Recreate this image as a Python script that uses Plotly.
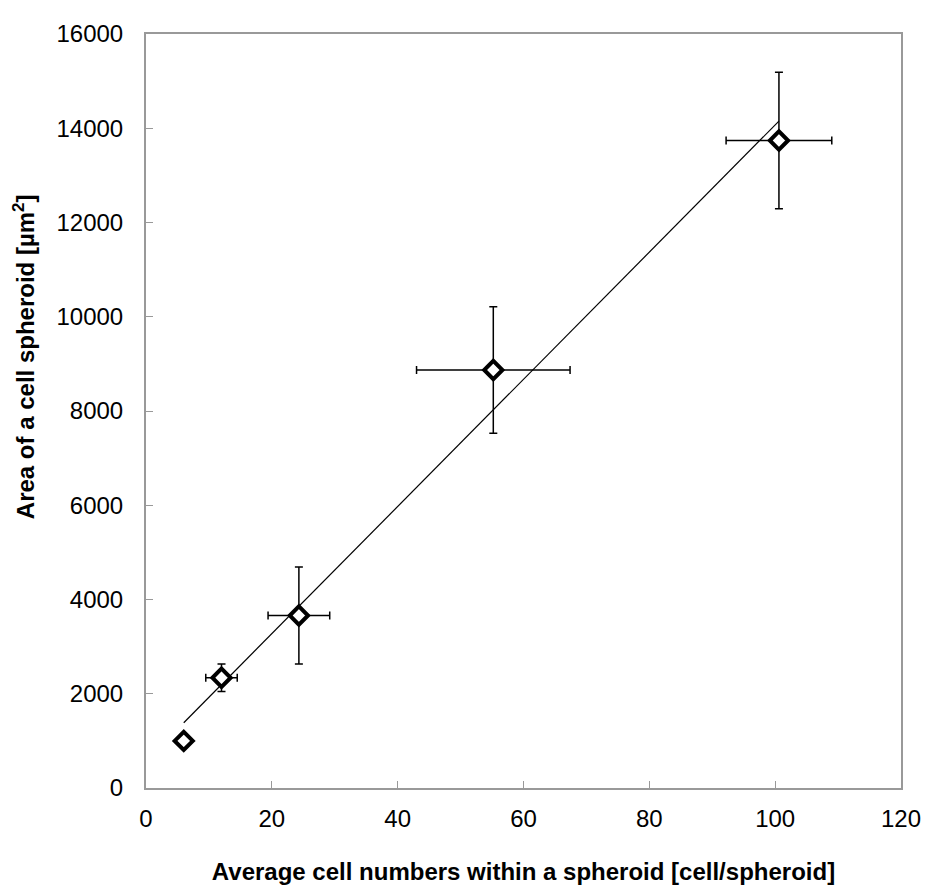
import numpy as np
import plotly.graph_objects as go

cell_numbers = [6.0, 12.0, 24.3, 55.2, 100.6]
cell_numbers_err = [0.0, 2.5, 4.9, 12.2, 8.4]
spheroid_area = [1000, 2340, 3660, 8870, 13740]
spheroid_area_err = [0, 290, 1030, 1340, 1450]

slope, intercept = np.polyfit(cell_numbers, spheroid_area, 1)
fit_x = [min(cell_numbers), max(cell_numbers)]
fit_y = [slope * v + intercept for v in fit_x]

FONT = "Liberation Sans, Arial, sans-serif"

fig = go.Figure()
fig.add_trace(go.Scatter(
    x=fit_x, y=fit_y, mode="lines",
    line=dict(color="black", width=1.2), showlegend=False, hoverinfo="skip"))
fig.add_trace(go.Scatter(
    x=cell_numbers, y=spheroid_area, mode="markers",
    marker=dict(symbol="diamond", size=14, color="white",
                line=dict(color="black", width=4)),
    error_x=dict(type="data", array=cell_numbers_err, color="black",
                 thickness=1.5, width=4),
    error_y=dict(type="data", array=spheroid_area_err, color="black",
                 thickness=1.5, width=4),
    showlegend=False))

axis_common = dict(
    showgrid=False, zeroline=False, showline=True, linecolor="#999999",
    linewidth=2, mirror=True, ticks="inside", ticklen=7, tickcolor="#999999",
    tickwidth=1, tickformat="d",
    tickfont=dict(family=FONT, size=24, color="black"),
)
fig.update_xaxes(range=[0, 120], dtick=20, ticklabelstandoff=8, **axis_common,
                 title=dict(text="<b>Average cell numbers within a spheroid [cell/spheroid]</b>",
                            font=dict(family=FONT, size=24, color="black"),
                            standoff=32))
fig.update_yaxes(range=[0, 16000], dtick=2000, ticklabelstandoff=16, **axis_common)
fig.add_annotation(text="<b>Area of a cell spheroid [µm<sup>2</sup>]</b>",
                   xref="paper", yref="paper", x=-0.1618, y=0.5725,
                   xanchor="center", yanchor="middle", textangle=-90, showarrow=False,
                   font=dict(family=FONT, size=24, color="black"))
fig.update_layout(
    width=925, height=885, plot_bgcolor="white", paper_bgcolor="white",
    margin=dict(l=138, r=27, t=12, b=101),
)
fig.write_html("out.html")
